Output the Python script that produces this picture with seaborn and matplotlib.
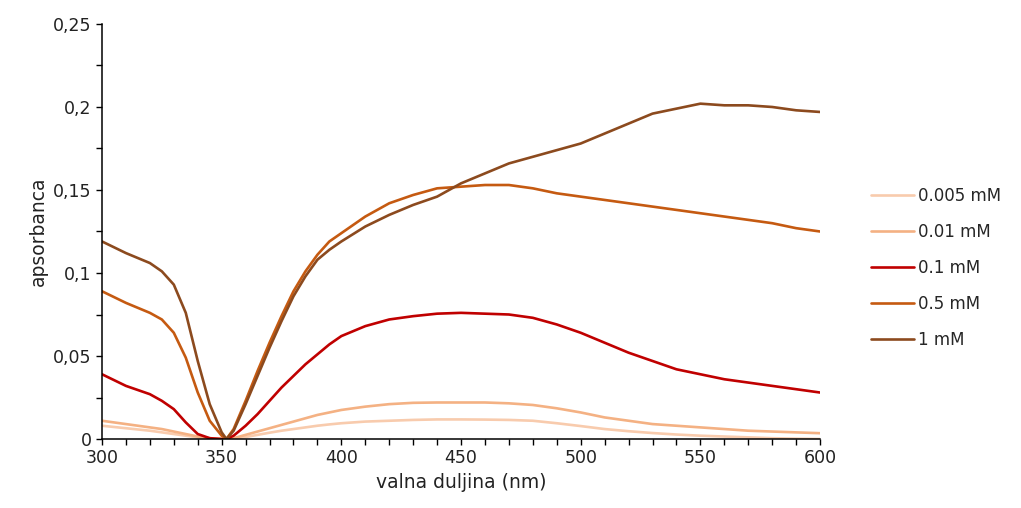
import pandas as pd
import matplotlib
matplotlib.use("Agg")
import matplotlib.pyplot as plt
import seaborn as sns
from matplotlib.ticker import MultipleLocator, FuncFormatter

# wavelength grid (nm)
wavelength = [300, 310, 320, 325, 330, 335, 340, 345, 350, 352, 355, 360, 365, 370, 375,
              380, 385, 390, 395, 400, 410, 420, 430, 440, 450, 460, 470, 480, 490, 500,
              510, 520, 530, 540, 550, 560, 570, 580, 590, 600]

# absorbance
abs_0005 = [0.008, 0.0065, 0.005, 0.004, 0.003, 0.002, 0.001, 0.0003, 0.0, 0.0, 0.0, 0.0012,
            0.0025, 0.0038, 0.005, 0.006, 0.007, 0.008, 0.0088, 0.0095, 0.0105, 0.011, 0.0115,
            0.0118, 0.0118, 0.0117, 0.0115, 0.011, 0.0095, 0.0078, 0.006, 0.0047, 0.0036,
            0.0027, 0.002, 0.0015, 0.001, 0.0005, 0.0002, 0.0]
abs_001 = [0.011, 0.009, 0.007, 0.006, 0.0045, 0.003, 0.0015, 0.0005, 0.0, 0.0, 0.0005, 0.0025,
           0.0045, 0.0065, 0.0085, 0.0105, 0.0125, 0.0145, 0.016, 0.0175, 0.0195, 0.021, 0.0218,
           0.022, 0.022, 0.022, 0.0215, 0.0205, 0.0185, 0.016, 0.013, 0.011, 0.009, 0.008,
           0.007, 0.006, 0.005, 0.0045, 0.004, 0.0035]
abs_01 = [0.039, 0.032, 0.027, 0.023, 0.018, 0.010, 0.003, 0.0005, 0.0, 0.0, 0.002, 0.008,
          0.015, 0.023, 0.031, 0.038, 0.045, 0.051, 0.057, 0.062, 0.068, 0.072, 0.074, 0.0755,
          0.076, 0.0755, 0.075, 0.073, 0.069, 0.064, 0.058, 0.052, 0.047, 0.042, 0.039, 0.036,
          0.034, 0.032, 0.030, 0.028]
abs_05 = [0.089, 0.082, 0.076, 0.072, 0.064, 0.049, 0.028, 0.011, 0.002, 0.0, 0.006, 0.023,
          0.041, 0.058, 0.074, 0.089, 0.101, 0.111, 0.119, 0.124, 0.134, 0.142, 0.147, 0.151,
          0.152, 0.153, 0.153, 0.151, 0.148, 0.146, 0.144, 0.142, 0.140, 0.138, 0.136, 0.134,
          0.132, 0.130, 0.127, 0.125]
abs_1 = [0.119, 0.112, 0.106, 0.101, 0.093, 0.076, 0.047, 0.021, 0.004, 0.0, 0.005, 0.021,
         0.038, 0.055, 0.071, 0.086, 0.098, 0.108, 0.114, 0.119, 0.128, 0.135, 0.141, 0.146,
         0.154, 0.160, 0.166, 0.170, 0.174, 0.178, 0.184, 0.190, 0.196, 0.199, 0.202, 0.201,
         0.201, 0.200, 0.198, 0.197]

labels = ["0.005 mM", "0.01 mM", "0.1 mM", "0.5 mM", "1 mM"]
series = [abs_0005, abs_001, abs_01, abs_05, abs_1]
colors = ["#F8CBAD", "#F4B183", "#C00000", "#C55A11", "#8C4A1E"]

rows = []
for lab, vals in zip(labels, series):
    for w, a in zip(wavelength, vals):
        rows.append({"wl": w, "A": a, "conc": lab})
df = pd.DataFrame(rows)

sns.set_style("ticks")
plt.rcParams["font.family"] = ["DejaVu Sans"]

fig = plt.figure(figsize=(10.21, 5.08), dpi=100)
ax = fig.add_axes([0.0999, 0.1358, 0.7033, 0.817])

sns.lineplot(data=df, x="wl", y="A", hue="conc", hue_order=labels,
             palette=dict(zip(labels, colors)), linewidth=1.9, ax=ax)

ax.set_xlim(300, 600)
ax.set_ylim(0, 0.25)
ax.xaxis.set_major_locator(MultipleLocator(50))
ax.xaxis.set_minor_locator(MultipleLocator(10))
ax.yaxis.set_major_locator(MultipleLocator(0.05))
ax.yaxis.set_minor_locator(MultipleLocator(0.025))
ax.yaxis.set_major_formatter(FuncFormatter(lambda v, p: f"{v:g}".replace(".", ",")))
ax.tick_params(which="both", direction="out", length=4, width=1, color="black",
               labelsize=12.5, labelcolor="#222222")
for s in ["top", "right"]:
    ax.spines[s].set_visible(False)
for s in ["left", "bottom"]:
    ax.spines[s].set_color("black")
    ax.spines[s].set_linewidth(1.1)

ax.set_xlabel("valna duljina (nm)", fontsize=13.5, color="#222222")
ax.set_ylabel("apsorbanca", fontsize=13.5, color="#222222")

ax.legend(loc="center left", bbox_to_anchor=(0.838, 0.4724),
          bbox_transform=fig.transFigure, frameon=False, fontsize=12,
          handlelength=2.6, handletextpad=0.25, labelspacing=1.08)

fig.savefig("out.png", dpi=100)
